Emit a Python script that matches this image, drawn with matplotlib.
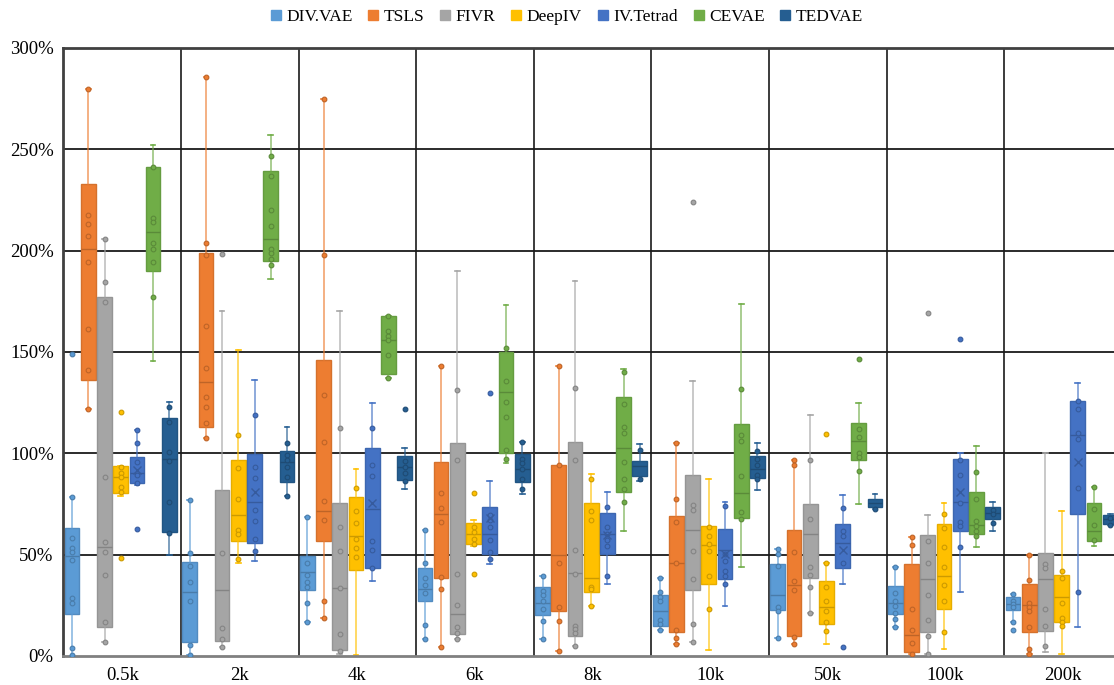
import numpy as np
import matplotlib.pyplot as plt
import matplotlib.colors as mcolors
from matplotlib.lines import Line2D

plt.rcParams['font.family'] = ['Liberation Serif', 'DejaVu Serif']

groups = ['0.5k', '2k', '4k', '6k', '8k', '10k', '50k', '100k', '200k']
methods = ['DIV.VAE', 'TSLS', 'FIVR', 'DeepIV', 'IV.Tetrad', 'CEVAE', 'TEDVAE']
colors = ['#5B9BD5', '#ED7D31', '#A5A5A5', '#FFC000', '#4472C4', '#70AD47', '#255E91']

# box stats per sample size: (whisker low, q1, median, q3, whisker high), in %
div_box = [(0, 20.7, 49.3, 63.1, 78.4), (0.6, 7.0, 31.8, 46.5, 76.8), (16.8, 32.8, 41.6, 49.4, 68.4),
           (8.4, 27, 33.2, 43.6, 62), (8.4, 20, 26, 33.8, 39.3), (12.7, 14.6, 22, 30.3, 38.7),
           (9, 22.5, 30, 45.5, 53), (14.3, 20.5, 26, 34.4, 44), (16.8, 22.5, 25.6, 28.9, 30.5)]
div_pts = [[149, 78.4, 58.2, 53.3, 51.3, 47.4, 28.6, 26.1, 3.9, 0.5], [76.8, 51, 44.5, 36.3, 27, 5.3, 0.6],
           [68.4, 45.9, 40.2, 36.7, 33.8, 26, 16.8], [62, 46, 38.7, 34.8, 30.9, 15.2, 8.4],
           [39.3, 32.2, 29.9, 27, 23, 17.2, 8.4], [38.7, 31.8, 29.3, 27.3, 17.8, 15.8, 12.7],
           [53, 50.4, 44.5, 24, 22, 9], [44, 31.2, 27.3, 24.6, 21, 18.2, 14.3],
           [30.5, 26.9, 25.9, 24, 16.8, 12.7]]

tsls_box = [(121.9, 136, 201, 233, 280), (107.8, 113, 135, 198.8, 285.7), (18.8, 56.6, 71.5, 146, 275),
            (4.5, 38.3, 70, 95.7, 143), (2.5, 22, 50, 94.3, 143), (5.9, 11.7, 45.9, 69, 105),
            (5.9, 9.8, 34.8, 62, 96.9), (1.2, 2.1, 10.4, 45.5, 58.6), (1.2, 11.7, 25, 35.4, 50)]
tsls_pts = [[280, 217.6, 213, 207, 194.5, 161.3, 141, 121.9], [285.7, 204, 197.7, 163, 142, 128, 122.7, 115, 107.8],
            [275, 197.7, 129, 105.5, 76.4, 67, 27, 18.8], [143, 80.3, 72.9, 66, 39, 33.2, 4.5],
            [143, 94.3, 45.9, 24, 17.2, 2.5], [105, 77.3, 66, 45.9, 12.9, 8.8, 5.9],
            [96.9, 94.3, 51.4, 37.1, 32.8, 9.4, 5.9], [58.6, 54.7, 23, 12.8, 6.4, 1.2],
            [50, 37.3, 26, 24, 22, 14.3, 3.5, 1.2]]

fivr_box = [(6.7, 14.5, 53.6, 177, 206), (4.3, 7.4, 32.8, 82, 170), (1, 3.1, 33.4, 75.4, 170),
            (8.4, 10.9, 20.5, 105, 190), (5, 10, 41, 105.5, 185), (6.8, 32.4, 62, 89.5, 135.7),
            (21, 38.7, 60.2, 74.8, 118.8), (1.2, 11.9, 38, 59.8, 69.5), (2, 12.3, 38, 51, 100.2)]
fivr_pts = [[206, 184.5, 174.8, 88.5, 56.2, 51.3, 40.1, 16.9, 6.7], [198.4, 51, 14, 8.4, 4.3],
            [112.5, 63.7, 51.6, 33.4, 10.7, 2.5], [131.4, 96.7, 40.6, 25, 14.3, 11.3, 8.4],
            [132, 96.7, 52.3, 40.6, 14.6, 13.1, 11.3, 5], [224, 74.6, 71.9, 51.6, 38, 15.8, 6.8],
            [96.9, 67.6, 44.1, 40.2, 33.8, 21], [169, 56.6, 45.9, 29.9, 17.6, 9.8, 1.2],
            [45.5, 43.5, 23, 14.8, 4.9]]

deepiv_box = [(79, 80.6, 88.1, 93.7, 93.7), (46, 56.6, 69.5, 96.9, 151), (0.6, 42.6, 59, 78.7, 92.4),
              (54.3, 55.3, 60.2, 65.6, 67), (24.6, 31.4, 38.3, 75.4, 89.8), (3.1, 35.4, 54.9, 64, 87.5),
              (5.9, 15.6, 24, 37.1, 46), (3.5, 23, 39.5, 65, 75.4), (1, 16.8, 29.3, 40, 71.5)]
deepiv_pts = [[120.5, 93.4, 90.1, 88.5, 83.5, 81.1, 48.5], [109, 93, 77.3, 62, 60, 48],
              [83, 71.7, 65.4, 57.6, 53.1, 48.8], [80.3, 63.7, 61.1, 57.8, 55.3, 40.6],
              [87.5, 71.3, 66.9, 34, 33, 24.6], [63.7, 59, 55.1, 51.8, 39.5, 23.4],
              [109.6, 46, 33.8, 26.9, 22, 16.6, 12.3], [70.3, 63.1, 53.9, 44.1, 34.8, 26.9, 11.9],
              [42, 38.3, 26, 18.8, 16.8, 14.6]]

tetrad_box = [(84.2, 85.5, 90.4, 98, 111.3), (47, 55.9, 76, 99.8, 136), (37.1, 43.6, 72.5, 102.5, 125),
              (45.5, 50.4, 60.2, 73.4, 86.5), (35.7, 50.4, 60.2, 70.5, 81), (24.6, 38, 52.3, 62.7, 75.8),
              (35.4, 43.2, 55.7, 65, 79.3), (31.4, 61.5, 75.8, 97.3, 100.2), (14.3, 70, 109, 126, 134.8)]
tetrad_pts = [[111.3, 105, 95.9, 89.3, 85.2, 62.8], [119, 93.2, 87.9, 72.1, 66.8, 57.6, 52],
              [112.5, 94.3, 88.9, 56.6, 52.3, 43.6], [130, 69.5, 67, 63.7, 57.2, 51.4, 48],
              [73.4, 63.7, 60.2, 57.2, 54.3, 39.3], [74.2, 50.4, 46.9, 42, 39.5, 35.4],
              [72.9, 61.9, 59, 46, 4.5], [156.6, 96.7, 89.5, 75.4, 66, 64, 53.7],
              [126, 122, 110.2, 107.2, 83, 31.4]]
tetrad_mean = [91.8, 81, 75.4, 68, 59.8, 50.4, 52.3, 81, 95.7]

cevae_box = [(145.7, 190, 209, 241.2, 252), (186, 195, 206, 239.5, 257), (137, 139, 155.9, 167.6, 167.6),
             (95, 100.2, 130.5, 150, 173.4), (61.5, 80.7, 102.7, 128, 141.8), (44, 68, 80.3, 114.5, 173.8),
             (74.8, 96.7, 106, 115.2, 125), (53.7, 60.2, 64.6, 81, 103.5), (54.3, 56.8, 61.5, 75.4, 83.6)]
cevae_pts = [[241.2, 216, 214, 203.7, 200.8, 194.2, 177.3], [246.7, 236.9, 220, 212, 200.8, 198.8, 195.9, 192.8],
             [167.6, 160.2, 157.8, 155.9, 148.4, 137], [152, 135.5, 125.2, 118, 101.8, 97.3],
             [140, 124.2, 112.9, 110, 95.9, 87.3, 82.4, 76.2], [131.8, 108.8, 105.9, 88.7, 70.9, 67.6],
             [146.5, 112.1, 108.2, 100.4, 98, 91.4], [91, 77.7, 66.4, 64, 61.5, 59.2],
             [83.6, 72.5, 64.8, 57.2]]

tedvae_box = [(49.8, 61.3, 97.2, 117.3, 125.5), (79, 86, 95.7, 101, 113), (82.6, 87, 93.4, 98.8, 102.7),
              (79.7, 86, 92.4, 99.8, 105.5), (86.5, 89, 93.8, 96.3, 104.7), (82, 87.9, 92.4, 98.8, 105),
              (72.3, 73.4, 75.4, 77.3, 80), (61.5, 67.4, 70.5, 73.4, 76.2), (64.5, 65, 67.6, 69.5, 69.9)]
tedvae_pts = [[122.8, 115.3, 100.5, 96.2, 75.8, 60.8], [105, 99.2, 96.9, 93.4, 88.5, 79],
              [121.7, 96.3, 93.4, 90.4, 86.5], [105.5, 97.3, 95, 92.4, 87.5, 82.6],
              [101.8, 87.5], [101.2, 97.3, 94.3, 89.5, 87.1], [72.3], [71.9, 70, 65.6], [64.5, 68]]

all_box = [div_box, tsls_box, fivr_box, deepiv_box, tetrad_box, cevae_box, tedvae_box]
all_pts = [div_pts, tsls_pts, fivr_pts, deepiv_pts, tetrad_pts, cevae_pts, tedvae_pts]


def darker(c, f=0.75):
    r, g, b = mcolors.to_rgb(c)
    return (r * f, g * f, b * f)


W, H = 1114, 685
fig = plt.figure(figsize=(W / 100, H / 100), dpi=100)
# plot area runs a bit past the right edge of the picture, as in the original
ax = fig.add_axes([63.4 / W, (H - 656) / H, (1121.9 - 63.4) / W, 608 / H])
ax.set_xlim(-0.5, len(groups) - 0.5)
ax.set_ylim(0, 300)

for y in range(50, 300, 50):
    ax.axhline(y, color='#1a1a1a', lw=1.3, zorder=0)
for g in range(len(groups) - 1):
    ax.axvline(g + 0.5, color='#1a1a1a', lw=1.2, zorder=0)

step = 0.1378
bw = 0.125
for i, (name, col) in enumerate(zip(methods, colors)):
    pos = [g - 0.5 + 0.074 + step * i for g in range(len(groups))]
    stats = [dict(whislo=b[0], q1=b[1], med=b[2], q3=b[3], whishi=b[4], fliers=[])
             for b in all_box[i]]
    dk = darker(col, 0.8)
    ax.bxp(stats, positions=pos, widths=bw, capwidths=0.04, patch_artist=True,
           showfliers=False, manage_ticks=False,
           boxprops=dict(facecolor=col, edgecolor=darker(col, 0.9), lw=1.0),
           whiskerprops=dict(color=col, lw=1.2, alpha=0.7),
           capprops=dict(color=col, lw=1.2),
           medianprops=dict(color=dk, lw=1.0), zorder=2)
    for p, vals in zip(pos, all_pts[i]):
        ax.plot(np.full(len(vals), p), vals, 'o', ms=3.4, mfc=col, mec=dk, mew=0.8,
                ls='none', zorder=4)
    if name == 'IV.Tetrad':
        ax.plot(pos, tetrad_mean, 'x', ms=6, color=dk, mew=1.0, ls='none', zorder=5)

ax.set_xticks(range(len(groups)))
ax.set_xticklabels(groups)
ax.set_yticks(range(0, 301, 50))
ax.set_yticklabels([f'{v}%' for v in range(0, 301, 50)])
ax.tick_params(axis='both', length=0, labelsize=13.5)
ax.tick_params(axis='y', pad=7)
ax.tick_params(axis='x', pad=8)

for s in ['left', 'bottom', 'top']:
    ax.spines[s].set_color('#404040')
    ax.spines[s].set_linewidth(2)
ax.spines['bottom'].set_color('#808080')
ax.spines['right'].set_visible(False)

handles = [Line2D([], [], marker='s', ls='none', ms=6.5, mfc=c, mec=c) for c in colors]
fig.legend(handles, methods, loc='center', bbox_to_anchor=(565 / W, 1 - 17 / H), ncol=7,
           frameon=False, fontsize=12.5, handletextpad=0.1, columnspacing=0.7,
           handlelength=1.0)

fig.savefig('out.png', dpi=100)
